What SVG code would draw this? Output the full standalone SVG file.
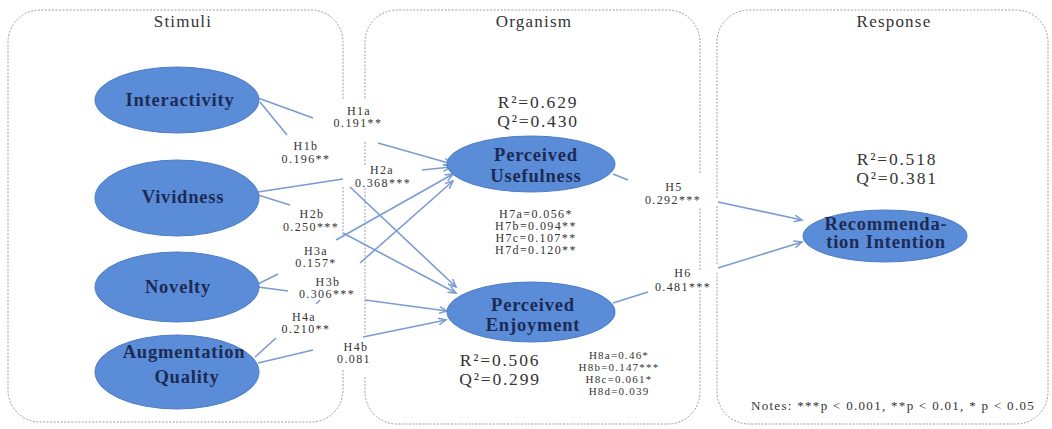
<svg xmlns="http://www.w3.org/2000/svg" width="1052" height="429" viewBox="0 0 1052 429">
<style>
.bg{fill:#ffffff}
.box{fill:none;stroke:#9a9aa8;stroke-width:1;stroke-dasharray:2 1.5}
.title{font-family:"Liberation Serif",serif;font-size:17px;letter-spacing:1.2px;fill:#333333;text-anchor:middle}
.node ellipse{fill:#5b8cd7;stroke:#4c7cc6;stroke-width:1}
.nt{font-family:"Liberation Serif",serif;font-size:18.5px;font-weight:bold;letter-spacing:0.8px;fill:#1c2b55;text-anchor:middle}
.stat{font-family:"Liberation Serif",serif;font-size:17.5px;letter-spacing:1.8px;fill:#333333;text-anchor:middle}
.lab{font-family:"Liberation Serif",serif;font-size:12px;letter-spacing:1.4px;fill:#333333;text-anchor:middle}
.lab8{font-family:"Liberation Serif",serif;font-size:11px;letter-spacing:1.2px;fill:#333333;text-anchor:middle}
.note{font-family:"Liberation Serif",serif;font-size:13px;letter-spacing:1.3px;fill:#333333;text-anchor:middle}
.con{fill:none;stroke:#7b9bd2;stroke-width:1.6;marker-end:url(#arr)}
</style>
<defs>
<marker id="arr" markerWidth="10" markerHeight="8" refX="8" refY="4" orient="auto" markerUnits="userSpaceOnUse">
<path d="M0,0.5 L8,4 L0,7.5" fill="none" stroke="#7b9bd2" stroke-width="1.5"/>
</marker>
</defs>
<rect class="bg" x="0" y="0" width="1052" height="429"/>

<g id="frames">
<path class="box" d="M343,370 V390 A32,32 0 0 1 311,422 H40 A32,32 0 0 1 8,390 V42 A32,32 0 0 1 40,10 H311 A32,32 0 0 1 343,42 V100 M343,187 V237"/>
<path class="box" d="M365,377 V392 A32,32 0 0 0 397,424 H668 A32,32 0 0 0 700,392 V290 M700,270 V207 M700,173 V42 A32,32 0 0 0 668,10 H397 A32,32 0 0 0 365,42 V100 M365,142 V165 M365,188 V335"/>
<path class="box" d="M717,198 V42 A32,32 0 0 1 749,10 H1016 A32,32 0 0 1 1048,42 V392 A32,32 0 0 1 1016,424 H749 A32,32 0 0 1 717,392 V272 M717,264 V206"/>
<text class="title" x="183" y="27">Stimuli</text>
<text class="title" x="534" y="27">Organism</text>
<text class="title" x="894" y="27">Response</text>
</g>

<g id="connectors">
<path id="c-h1a" class="con" d="M258,98 L313,118 M378,143 L452,164"/>
<path id="c-h1b" class="con" d="M260,102 L287,135 M350,187 L456,287"/>
<path id="c-h2a" class="con" d="M258,192 L343,179 M422,170 L451,167"/>
<path id="c-h2b" class="con" d="M258,195 L290,205 M343,233 L456,293"/>
<path id="c-h3a" class="con" d="M258,284 L278,274 M336,240 L453,174"/>
<path id="c-h3b" class="con" d="M258,287 L288,291 M365,300 L447,311"/>
<path id="c-h4a" class="con" d="M255,357 L276,338 M316,304 L320,300 M360,263 L453,181"/>
<path id="c-h4b" class="con" d="M258,363 L313,350 M363,337 L446,320"/>
<path id="c-h5" class="con" d="M613,174 L628,180 M718,202 L802,220"/>
<path id="c-h6" class="con" d="M613,303 L648,292 M718,268 L802,242"/>
</g>

<g id="n-interactivity" class="node">
<ellipse cx="177" cy="100" rx="82" ry="33"/>
<text class="nt" x="180" y="106">Interactivity</text>
</g>
<g id="n-vividness" class="node">
<ellipse cx="177" cy="198" rx="82" ry="38"/>
<text class="nt" x="183" y="203">Vividness</text>
</g>
<g id="n-novelty" class="node">
<ellipse cx="177" cy="287" rx="82" ry="35"/>
<text class="nt" x="178" y="293">Novelty</text>
</g>
<g id="n-augmentation" class="node">
<ellipse cx="177" cy="372" rx="82" ry="37"/>
<text class="nt" x="184" y="358">Augmentation</text>
<text class="nt" x="187" y="383">Quality</text>
</g>
<g id="n-usefulness" class="node">
<ellipse cx="531" cy="164" rx="84" ry="28"/>
<text class="nt" x="536" y="161">Perceived</text>
<text class="nt" x="536" y="182">Usefulness</text>
</g>
<g id="n-enjoyment" class="node">
<ellipse cx="531" cy="312" rx="84" ry="30"/>
<text class="nt" x="533" y="311">Perceived</text>
<text class="nt" x="533" y="331">Enjoyment</text>
</g>
<g id="n-recommendation" class="node">
<ellipse cx="885" cy="236" rx="82" ry="26"/>
<text class="nt" x="886" y="230">Recommenda-</text>
<text class="nt" x="886" y="248">tion Intention</text>
</g>

<g id="stats">
<text class="stat" x="538" y="108">R²=0.629</text>
<text class="stat" x="538" y="127">Q²=0.430</text>
<text class="stat" x="500" y="366">R²=0.506</text>
<text class="stat" x="500" y="385">Q²=0.299</text>
<text class="stat" x="897" y="165">R²=0.518</text>
<text class="stat" x="897" y="184">Q²=0.381</text>
</g>

<g id="path-labels">
<text class="lab" x="359" y="115">H1a</text>
<text class="lab" x="358" y="127">0.191**</text>
<text class="lab" x="306" y="150">H1b</text>
<text class="lab" x="306" y="163">0.196**</text>
<text class="lab" x="382" y="174">H2a</text>
<text class="lab" x="383" y="187">0.368***</text>
<text class="lab" x="312" y="218">H2b</text>
<text class="lab" x="311" y="231">0.250***</text>
<text class="lab" x="316" y="255">H3a</text>
<text class="lab" x="316" y="267">0.157*</text>
<text class="lab" x="328" y="286">H3b</text>
<text class="lab" x="327" y="298">0.306***</text>
<text class="lab" x="304" y="321">H4a</text>
<text class="lab" x="306" y="333">0.210**</text>
<text class="lab" x="356" y="351">H4b</text>
<text class="lab" x="354" y="363">0.081</text>
<text class="lab" x="536" y="218">H7a=0.056*</text>
<text class="lab" x="536" y="230">H7b=0.094**</text>
<text class="lab" x="536" y="242">H7c=0.107**</text>
<text class="lab" x="536" y="254">H7d=0.120**</text>
<text class="lab8" x="619" y="359">H8a=0.46*</text>
<text class="lab8" x="619" y="371">H8b=0.147***</text>
<text class="lab8" x="619" y="383">H8c=0.061*</text>
<text class="lab8" x="619" y="395">H8d=0.039</text>
<text class="lab" x="674" y="191">H5</text>
<text class="lab" x="673" y="204">0.292***</text>
<text class="lab" x="683" y="277">H6</text>
<text class="lab" x="683" y="291">0.481***</text>
<text class="note" x="893" y="410">Notes: ***p &lt; 0.001, **p &lt; 0.01, * p &lt; 0.05</text>
</g>
</svg>
